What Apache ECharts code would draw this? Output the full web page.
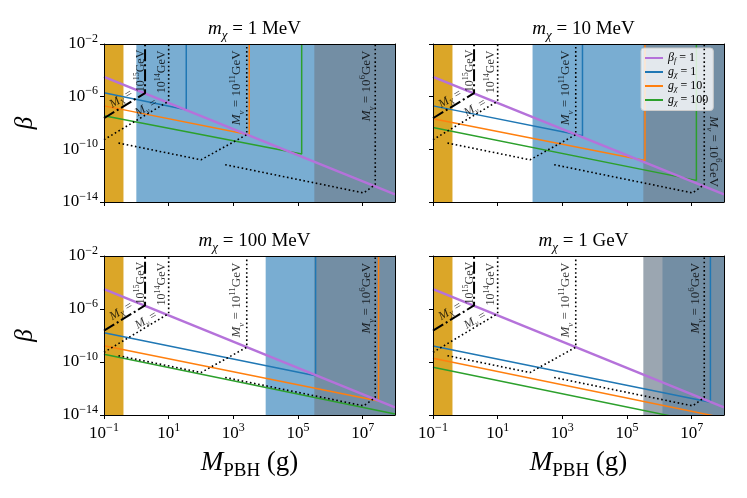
<!DOCTYPE html>
<html><head><meta charset="utf-8">
<script src="https://cdn.jsdelivr.net/npm/echarts@6/dist/echarts.min.js"></script>
<style>html,body{margin:0;padding:0;background:#fff}#c{width:747px;height:498px}</style>
</head><body><div id="c"></div>
<script>
// ---------------- data ----------------
const panelTitles = ['1 MeV', '10 MeV', '100 MeV', '1 GeV'];
const xTicks = [0.1, 10, 1e3, 1e5, 1e7];
const yTicks = [1e-14, 1e-10, 1e-6, 1e-2];
const goldBand = [0.1, 0.4];
const blueBandStart = [1, 120, 1e4, 1.25e6];
const grayBandStart = 3.2e5;
const betaF = [[0.1, 3.2e-5], [1e8, 3.8e-14]];
const gChi1 = [
  [[0.1, 2.0e-6], [35, 1.0e-7], [35, 1e-2]],
  [[0.1, 2.0e-7], [4.2e3, 1.07e-9], [4.2e3, 1e-2]],
  [[0.1, 1.6e-8], [3.5e5, 9.3e-12], [3.5e5, 1e-2]],
  [[0.1, 1.6e-9], [3.8e7, 9.1e-14], [3.8e7, 1e-2]]
];
const gChi10 = [
  [[0.1, 2.0e-7], [3.1e3, 1.3e-9], [3.1e3, 1e-2]],
  [[0.1, 2.1e-8], [3.6e5, 1.4e-11], [3.6e5, 1e-2]],
  [[0.1, 1.7e-9], [3.1e7, 1.15e-13], [3.1e7, 1e-2]],
  [[0.1, 1.9e-10], [1e8, 6e-15]]
];
const gChi100 = [
  [[0.1, 3.5e-8], [1.3e5, 4.4e-11], [1.3e5, 1e-2]],
  [[0.1, 4.6e-9], [1.4e7, 4.4e-13], [1.4e7, 1e-2]],
  [[0.1, 3.8e-10], [1e8, 1.2e-14]],
  [[0.1, 4e-11], [1e8, 1.26e-15]]
];
const mX15 = [[0.1, 2.3e-8], [1.86, 1.86e-6], [1.86, 1e-2]];
const mNu14 = [[0.1, 5.4e-10], [10, 4.5e-7], [10, 1e-2]];
const mNu11 = [[0.28, 3e-10], [100, 1.6e-11], [2.6e3, 1.3e-9], [2.6e3, 1e-2]];
const mNu6 = [[560, 6.8e-12], [1.07e7, 4.9e-14], [2.45e7, 2.1e-13], [2.45e7, 1e-2]];
// label anchors [M, beta, rotation]
const lblMX15a = [0.34, 6.8e-7, 31];
const lblMX15b = [1.35, 8.9e-5, 90];
const lblMNu14a = [2.0, 1.4e-7, 31];
const lblMNu14b = [6.0, 7.6e-5, 90];
const lblMNu11 = [1.3e3, 4.7e-6, 90];
const lblMNu6 = [[1.35e7, 6.6e-6, 90], [4.7e7, 6.6e-11, -90], [1.35e7, 6.6e-6, 90], [1.35e7, 6.6e-6, 90]];

// ---------------- styling ----------------
const FF = "'Liberation Serif', 'DejaVu Serif', serif";
function rich(size) {
  const s = Math.round(size * 0.7);
  const b = {fontFamily: FF, fontWeight: 'normal', color: '#000'};
  return {
    r: Object.assign({fontSize: size, lineHeight: Math.round(size * 1.35)}, b),
    i: Object.assign({fontSize: size, fontStyle: 'italic', lineHeight: Math.round(size * 1.35)}, b),
    sup: Object.assign({fontSize: s, lineHeight: s, verticalAlign: 'top'}, b),
    sub: Object.assign({fontSize: s, lineHeight: s, verticalAlign: 'bottom'}, b),
    subi: Object.assign({fontSize: s, fontStyle: 'italic', lineHeight: s, verticalAlign: 'bottom'}, b)
  };
}
function expLabel(v) {
  const e = Math.round(Math.log10(v));
  return '{r|10}{sup|' + (e < 0 ? '\u2212' : '') + Math.abs(e) + '}';
}
const grids = [
  {left: 104, top: 44, width: 291, height: 158},
  {left: 433, top: 44, width: 291, height: 158},
  {left: 104, top: 256, width: 291, height: 159},
  {left: 433, top: 256, width: 291, height: 159}
];
const titleCenters = [[249.5, 11], [578.5, 11], [249.5, 223], [578.5, 223]];

const xAxes = [], yAxes = [], series = [], titles = [];
for (let i = 0; i < 4; i++) {
  const bottom = i >= 2, left = i % 2 === 0;
  xAxes.push({
    type: 'log', logBase: 10, gridIndex: i, min: 0.1, max: 1e8, z: 10,
    axisLine: {show: true, lineStyle: {color: '#000', width: 1}},
    axisTick: {show: true, inside: false, length: 4, lineStyle: {color: '#000'}, customValues: xTicks},
    minorTick: {show: false}, splitLine: {show: false},
    axisLabel: {show: bottom, margin: 7, customValues: xTicks, formatter: expLabel, rich: rich(17)},
    name: bottom ? '{i|M}{sub|PBH}{r| (g)}' : '', nameLocation: 'middle', nameGap: 30,
    nameTextStyle: {rich: rich(27)}
  });
  xAxes.push({
    type: 'value', gridIndex: i, position: 'top', min: 0, max: 1, z: 10,
    axisLine: {show: true, onZero: false, lineStyle: {color: '#000', width: 1}},
    axisTick: {show: false}, axisLabel: {show: false}, splitLine: {show: false}
  });
  yAxes.push({
    type: 'log', logBase: 10, gridIndex: i, min: 1e-14, max: 1e-2, z: 10,
    axisLine: {show: true, lineStyle: {color: '#000', width: 1}},
    axisTick: {show: true, inside: false, length: 4, lineStyle: {color: '#000'}, customValues: yTicks},
    minorTick: {show: false}, splitLine: {show: false},
    axisLabel: {show: left, margin: 6, customValues: yTicks, formatter: expLabel, rich: rich(17)},
    name: left ? '{i|\u03b2}' : '', nameLocation: 'middle', nameGap: 62, nameRotate: 90,
    nameTextStyle: {rich: rich(25)}
  });
  yAxes.push({
    type: 'value', gridIndex: i, position: 'right', min: 0, max: 1, z: 10,
    axisLine: {show: true, onZero: false, lineStyle: {color: '#000', width: 1}},
    axisTick: {show: false}, axisLabel: {show: false}, splitLine: {show: false}
  });
  titles.push({
    text: '{i|m}{subi|\u03c7}{r| = ' + panelTitles[i] + '}',
    left: titleCenters[i][0], top: titleCenters[i][1], textAlign: 'center',
    textStyle: {fontWeight: 'normal', rich: rich(19)}
  });
  const ax = {xAxisIndex: 2 * i, yAxisIndex: 2 * i};
  // shaded bands
  series.push(Object.assign({
    type: 'line', data: [], silent: true, z: 1,
    markArea: {
      silent: true,
      data: [
        [{xAxis: goldBand[0], itemStyle: {color: '#dba628'}}, {xAxis: goldBand[1]}],
        [{xAxis: blueBandStart[i], itemStyle: {color: 'rgba(31,119,180,0.6)'}}, {xAxis: 1e8}],
        [{xAxis: grayBandStart, itemStyle: {color: 'rgba(112,128,144,0.7)'}}, {xAxis: 1e8}]
      ]
    }
  }, ax));
  const lineBase = {type: 'line', symbol: 'none', silent: true, animation: false, clip: true};
  series.push(Object.assign({}, lineBase, ax, {name: 'g1', data: gChi1[i], z: 3, lineStyle: {color: '#1f77b4', width: 1.5}, itemStyle: {color: '#1f77b4'}}));
  series.push(Object.assign({}, lineBase, ax, {name: 'g10', data: gChi10[i], z: 3, lineStyle: {color: '#ff7f0e', width: 1.5}, itemStyle: {color: '#ff7f0e'}}));
  series.push(Object.assign({}, lineBase, ax, {name: 'g100', data: gChi100[i], z: 3, lineStyle: {color: '#2ca02c', width: 1.5}, itemStyle: {color: '#2ca02c'}}));
  series.push(Object.assign({}, lineBase, ax, {name: 'bf', data: betaF, z: 4, lineStyle: {color: '#b572da', width: 2.5}, itemStyle: {color: '#b572da'}}));
  series.push(Object.assign({}, lineBase, ax, {data: mX15, z: 5, lineStyle: {color: '#000', width: 2, type: [12, 3, 2, 3]}}));
  [mNu14, mNu11, mNu6].forEach(d => {
    series.push(Object.assign({}, lineBase, ax, {data: d, z: 5, lineStyle: {color: '#000', width: 1.6, type: [1.6, 2.6]}}));
  });
  const lab = (p, txt, sz) => ({value: [p[0], p[1]], label: {show: true, position: 'inside', align: 'center', verticalAlign: 'middle', rotate: p[2], formatter: txt, rich: rich(sz)}});
  series.push(Object.assign({
    type: 'scatter', symbolSize: 1, itemStyle: {color: 'rgba(0,0,0,0)'}, silent: true, z: 6,
    data: [
      lab(lblMX15a, '{i|M}{subi|X}{r| =}', 12),
      lab(lblMX15b, '{r|10}{sup|15}{r|GeV}', 12),
      lab(lblMNu14a, '{i|M}{subi|\u03bd}{r| =}', 12),
      lab(lblMNu14b, '{r|10}{sup|14}{r|GeV}', 12),
      lab(lblMNu11, '{i|M}{subi|\u03bd}{r| = 10}{sup|11}{r|GeV}', 13),
      lab(lblMNu6[i], '{i|M}{subi|\u03bd}{r| = 10}{sup|6}{r|GeV}', 13)
    ]
  }, ax));
}

const legendNames = {bf: '{i|\u03b2}{subi|f}{r| = 1}', g1: '{i|g}{subi|\u03c7}{r| = 1}', g10: '{i|g}{subi|\u03c7}{r| = 10}', g100: '{i|g}{subi|\u03c7}{r| = 100}'};
const lr = rich(12);
lr.r.lineHeight = 13; lr.i.lineHeight = 13;

const chart = echarts.init(document.getElementById('c'), null, {renderer: 'canvas'});
chart.setOption({
  animation: false,
  backgroundColor: '#fff',
  title: titles,
  grid: grids.map(g => Object.assign({show: false, containLabel: false}, g)),
  xAxis: xAxes,
  yAxis: yAxes,
  legend: {
    data: [
      {name: 'bf', icon: 'rect', itemStyle: {color: '#b572da'}},
      {name: 'g1', icon: 'rect', itemStyle: {color: '#1f77b4'}},
      {name: 'g10', icon: 'rect', itemStyle: {color: '#ff7f0e'}},
      {name: 'g100', icon: 'rect', itemStyle: {color: '#2ca02c'}}
    ],
    orient: 'vertical', left: 641, top: 48,
    itemWidth: 18, itemHeight: 2, itemGap: 1.5,
    padding: [4, 5, 4, 4],
    backgroundColor: 'rgba(255,255,255,0.8)', borderColor: '#cccccc', borderWidth: 1, borderRadius: 3,
    selectedMode: false,
    formatter: n => legendNames[n],
    textStyle: {rich: lr}
  },
  series: series
});
</script></body></html>
